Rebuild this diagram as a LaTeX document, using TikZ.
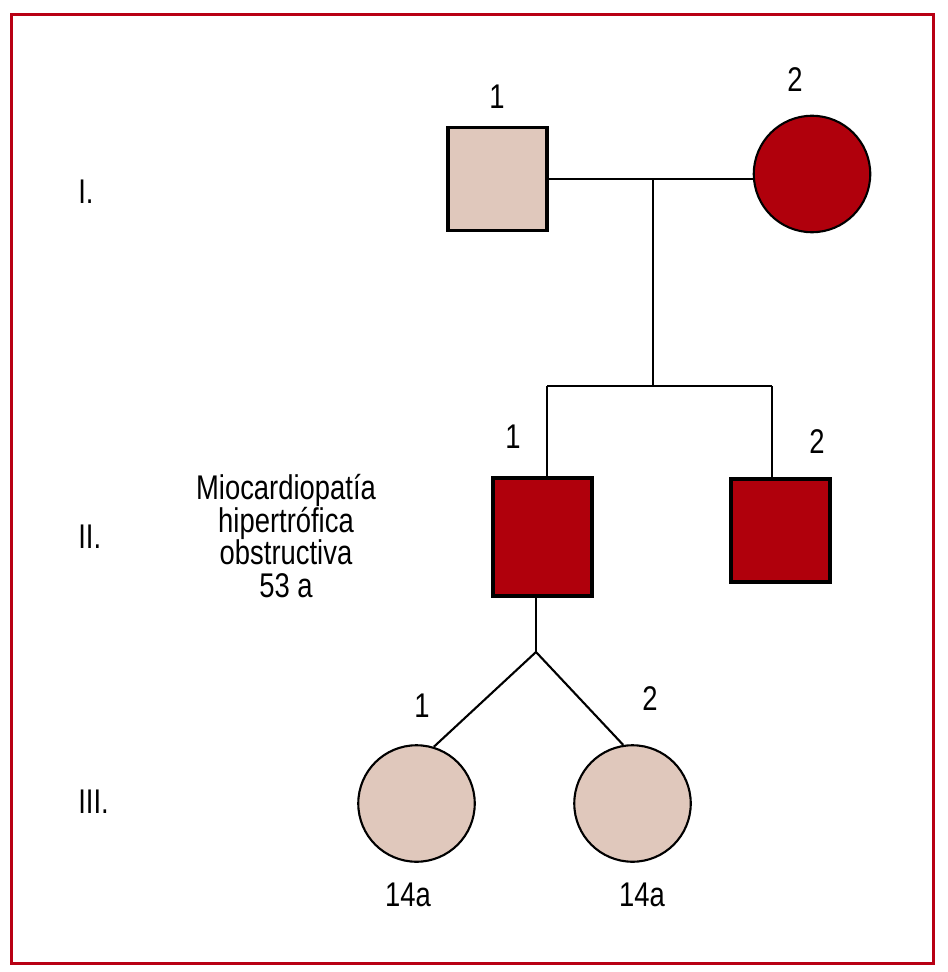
\documentclass[tikz,border=0pt]{standalone}
\usepackage{fontspec}
\setmainfont{Liberation Sans}[FakeStretch=0.8]
\usepackage{xcolor}
\usepackage{tikz}
\usetikzlibrary{positioning,calc}
\definecolor{affected}{RGB}{176,0,12}
\definecolor{healthy}{RGB}{224,200,188}
\definecolor{framered}{RGB}{184,0,20}
\tikzset{
  male/.style={rectangle, draw=black, line width=2pt, minimum width=1.98cm,
               minimum height=#1, inner sep=0pt},
  male/.default=2.06cm,
  female/.style={circle, draw=black, line width=1.2pt, minimum size=2.33cm, inner sep=0pt},
  lbl/.style={font=\fontsize{19.5}{18.6}\selectfont, inner sep=0pt},
  link/.style={line width=1.2pt},
}

\begin{document}
\begin{tikzpicture}[x=0.02cm, y=-0.02cm]
  \useasboundingbox (0,0) rectangle (947,972);
  \draw[framered, line width=2.2pt] (11.5,14.5) rectangle (933.5,963.5);
  % generaciones
  \foreach \g/\y [count=\k] in {I./192, II./537, III./802}
    \node[lbl, anchor=west] (gen\k) at (78,\y) {\g};
  % I
  \node[male, fill=healthy] (I1) at (497.5,179) {};
  \node[female, fill=affected] (I2) at (812,174) {};
  \node[lbl] (nI1) at (497,97) {1};
  \node[lbl] (nI2) at (795,80) {2};
  % II
  \node[male=2.36cm, fill=affected] (II1) at (542.5,537) {};
  \node[male, fill=affected] (II2) at (780.5,530.5) {};
  \node[lbl] (nII1) at (513,437) {1};
  \node[lbl] (nII2) at (817,442) {2};
  \node[lbl, align=center] (dx) at (286,536) {Miocardiopatía\\hipertrófica\\obstructiva\\53 a};
  % III
  \node[female, fill=healthy] (III1) at (416.5,803.5) {};
  \node[female, fill=healthy] (III2) at (632.5,803.5) {};
  \node[lbl] (nIII1) at (422,706) {1};
  \node[lbl] (nIII2) at (650,699) {2};
  \node[lbl] (aIII1) at (408,895) {14a};
  \node[lbl] (aIII2) at (642,895) {14a};
  % lineas
  \coordinate (mI) at (653,179);
  \coordinate (sibL) at (547,386);
  \coordinate (sibR) at (772,386);
  \coordinate (tw) at (536,652);
  \draw[link] (I1.east) -- (I2.west |- I1.east);
  \draw[link] (mI) -- (mI |- sibL);
  \draw[link] (sibL) -- (sibR);
  \draw[link] (sibL) -- (sibL |- II1.north);
  \draw[link] (sibR) -- (sibR |- II2.north);
  \draw[link] (tw |- II1.south) -- (tw);
  \draw[link] (III1.73) -- (tw) -- (III2.99);
\end{tikzpicture}
\end{document}
